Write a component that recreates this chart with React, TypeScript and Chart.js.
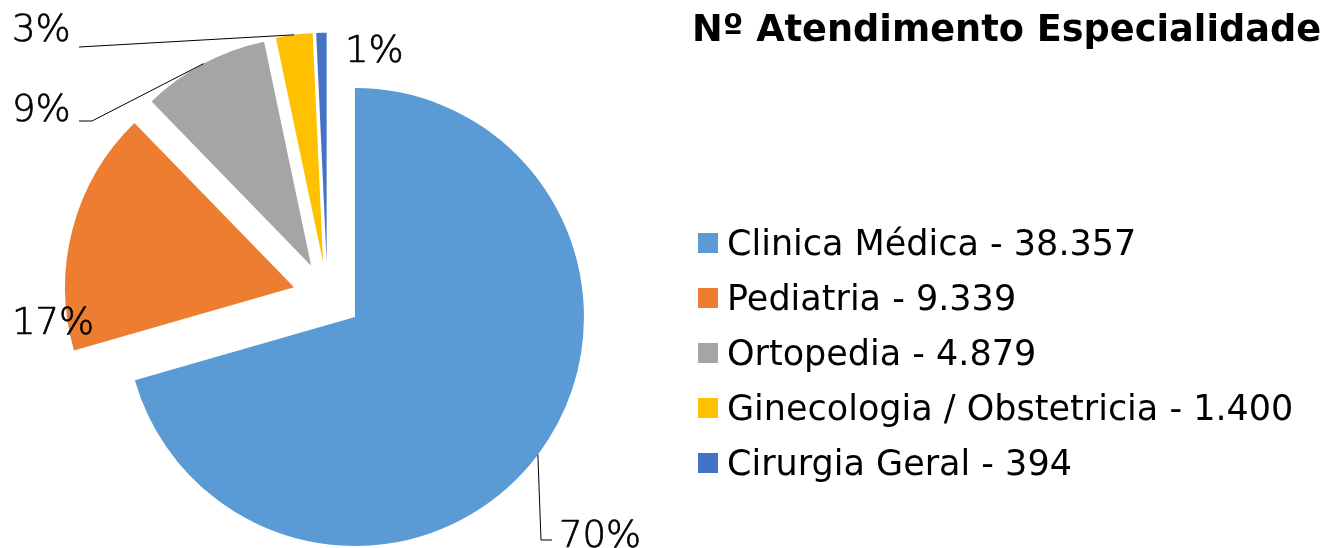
import React, { useEffect, useRef } from 'react';
import { Chart, registerables } from 'chart.js';

Chart.register(...registerables);

// ---------- data ----------
const categories = ['Clinica Médica', 'Pediatria', 'Ortopedia', 'Ginecologia / Obstetricia', 'Cirurgia Geral'];
const values = [38357, 9339, 4879, 1400, 394];
const percentLabels = ['70%', '17%', '9%', '3%', '1%'];
const chartTitle = 'Nº Atendimento Especialidade';

// ---------- style ----------
const colors = ['#5B9BD5', '#ED7D31', '#A5A5A5', '#FFC000', '#4472C4'];
const W = 1330;
const H = 548;
const PIE_CX = 327.4;
const PIE_CY = 296.2;
const PIE_R = 229;
const EXPLODE = 34.5;

// label layout: text left x, baseline y, optional leader elbow points (line from slice edge -> points)
const labelLayout = [
  { x: 559, y: 547, leader: [[541, 540], [552, 540]] },
  { x: 12, y: 334, leader: null },
  { x: 12, y: 121, leader: [[92, 121], [79, 121]] },
  { x: 12, y: 41, leader: [[79, 47]] },
  { x: 345, y: 62, leader: null },
];

const LEGEND_X = 698;
const LEGEND_TOP = 233;
const LEGEND_STEP = 55;
const LEGEND_BOX = 20;
const LEGEND_FONT = '35px "DejaVu Sans"';
const TITLE_FONT = 'bold 36.7px "DejaVu Sans"';
const LABEL_FONT = '200 37px "DejaVu Sans ExtraLight", "DejaVu Sans"';

function formatThousands(v: number): string {
  return String(v).replace(/\B(?=(\d{3})+(?!\d))/g, '.');
}

const explodePlugin = {
  id: 'explodeSlices',
  afterDatasetsUpdate(chart: any) {
    const meta = chart.getDatasetMeta(0);
    const ca = chart.chartArea;
    const cx = (ca.left + ca.right) / 2;
    const cy = (ca.top + ca.bottom) / 2;
    meta.data.forEach((el: any) => {
      const mid = (el.startAngle + el.endAngle) / 2;
      el.x = cx + Math.cos(mid) * EXPLODE;
      el.y = cy + Math.sin(mid) * EXPLODE;
    });
  },
};

const annotatePlugin = {
  id: 'annotate',
  afterDraw(chart: any) {
    const ctx: CanvasRenderingContext2D = chart.ctx;
    const meta = chart.getDatasetMeta(0);
    ctx.save();
    // leader lines + percent labels
    meta.data.forEach((el: any, i: number) => {
      const lay = labelLayout[i];
      const mid = (el.startAngle + el.endAngle) / 2;
      const ax = el.x + Math.cos(mid) * el.outerRadius;
      const ay = el.y + Math.sin(mid) * el.outerRadius;
      if (lay.leader) {
        ctx.beginPath();
        ctx.strokeStyle = '#000000';
        ctx.lineWidth = 1;
        ctx.moveTo(ax, ay);
        lay.leader.forEach((p) => ctx.lineTo(p[0], p[1]));
        ctx.stroke();
      }
      ctx.fillStyle = '#000000';
      ctx.strokeStyle = '#000000';
      ctx.lineWidth = 0.7;
      ctx.font = LABEL_FONT;
      ctx.textAlign = 'left';
      ctx.textBaseline = 'alphabetic';
      ctx.fillText(percentLabels[i], lay.x, lay.y);
      ctx.strokeText(percentLabels[i], lay.x, lay.y);
    });
    // title
    ctx.font = TITLE_FONT;
    ctx.fillStyle = '#000000';
    ctx.textAlign = 'left';
    ctx.textBaseline = 'alphabetic';
    ctx.fillText(chartTitle, 692, 41);
    // legend
    ctx.font = LEGEND_FONT;
    categories.forEach((c, i) => {
      const top = LEGEND_TOP + i * LEGEND_STEP;
      ctx.fillStyle = colors[i];
      ctx.fillRect(LEGEND_X, top, LEGEND_BOX, LEGEND_BOX);
      ctx.fillStyle = '#000000';
      ctx.fillText(`${c} - ${formatThousands(values[i])}`, 727, top + 22);
    });
    ctx.restore();
  },
};

export default function App() {
  const ref = useRef<HTMLCanvasElement | null>(null);
  useEffect(() => {
    if (!ref.current) return;
    const chart = new Chart(ref.current, {
      type: 'pie',
      data: {
        labels: categories,
        datasets: [
          {
            data: values,
            backgroundColor: colors,
            borderWidth: 0,
          },
        ],
      },
      options: {
        responsive: false,
        animation: false,
        events: [],
        radius: PIE_R,
        layout: {
          padding: {
            left: 0,
            right: W - 2 * PIE_CX,
            top: 2 * PIE_CY - H,
            bottom: 0,
          },
        },
        plugins: {
          legend: { display: false },
          title: { display: false },
          tooltip: { enabled: false },
        },
      } as any,
      plugins: [explodePlugin, annotatePlugin],
    });
    return () => chart.destroy();
  }, []);
  return (
    <div style={{ position: 'absolute', left: 0, top: 0, width: W, height: H, background: '#ffffff' }}>
      <canvas ref={ref} width={W} height={H} style={{ display: 'block', width: W, height: H }} />
    </div>
  );
}
